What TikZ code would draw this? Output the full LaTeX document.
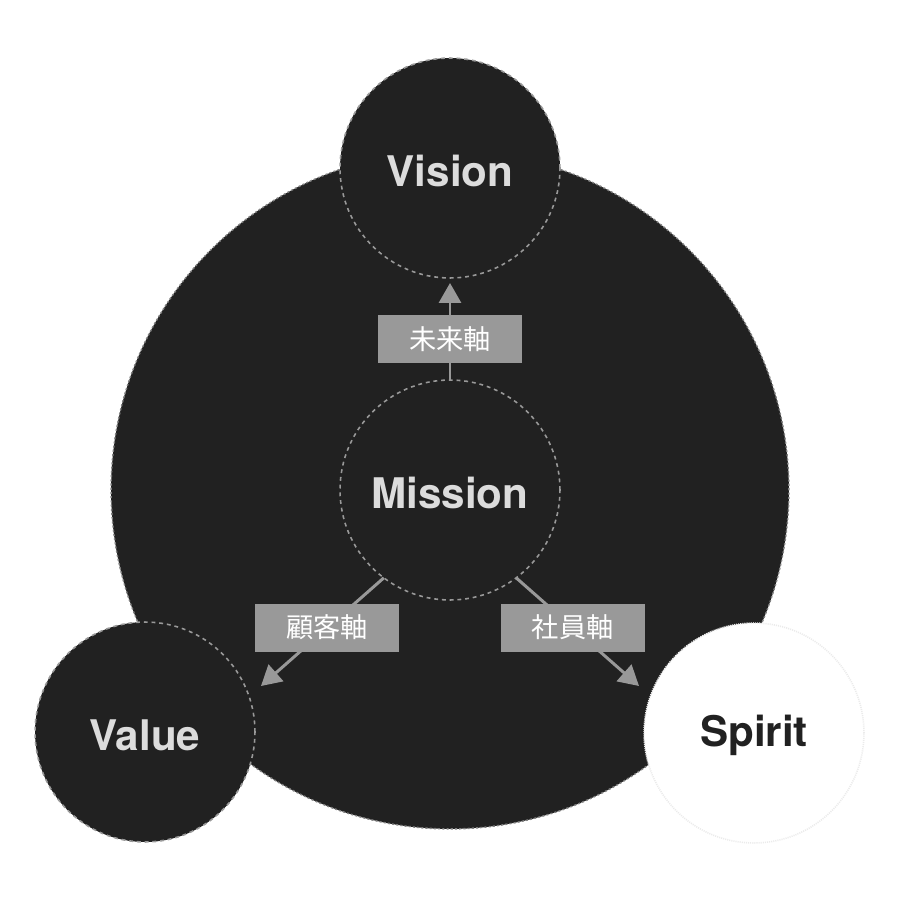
\documentclass[tikz,border=0pt]{standalone}
\usepackage{fontspec}
\setsansfont{TeX Gyre Heros}
\newfontfamily\jpfont{Noto Sans CJK JP}
\usepackage{xcolor}
\usepackage{tikz}
\usetikzlibrary{shapes, arrows.meta, positioning}

\definecolor{darkfill}{HTML}{212121}
\definecolor{lighttext}{HTML}{DCDCDC}
\definecolor{axisgray}{HTML}{999999}

\begin{document}
\begin{tikzpicture}[x=0.02cm, y=-0.02cm,
            bigcircle/.style={circle, draw=gray, dash pattern=on 1.2pt off 1.2pt, line width=0.8pt, fill=darkfill, minimum size=13.56cm, inner sep=0pt, outer sep=0pt},
            vmcircle/.style={circle, draw=axisgray, dash pattern=on 2.2pt off 2.2pt, line width=0.9pt, fill=darkfill, minimum size=4.4cm, inner sep=0pt, outer sep=0pt, text height=0.73cm, text depth=0pt, text=lighttext, font=\sffamily\bfseries\fontsize{24}{28}\selectfont},
            spiritcircle/.style={vmcircle, draw=black!8, dash pattern=on 0.6pt off 0.6pt, fill=white, text height=0.53cm, text=darkfill},
            axis/.style={rectangle, fill=axisgray, text=white, minimum width=2.88cm, minimum height=0.96cm, inner sep=0pt, font=\jpfont\fontsize{15.5}{18}\selectfont},
            arrow/.style={-{Triangle[length=0.4cm, width=0.44cm]}, line width=1.7pt, axisgray}]

            \useasboundingbox (0,0) rectangle (900,900);

            \node[bigcircle] (whole) at (450,490) {};
            \node[vmcircle] (vision) at (450,168) {Vision};
            \node[vmcircle] (value) at (145,732) {Value};
            \node[spiritcircle] (spirit) at (754,733) {Spirit};
            \node[vmcircle] (mission) at (450,490) {Mission};

            \coordinate (valuetip) at (261,686);
            \coordinate (spirittip) at (639,686);

            \draw[arrow, shorten >=0.1cm] (mission.north) -- node[axis, pos=0.4] (mirai) {未来軸} (vision.south);
            \draw[arrow] (mission.233) -- node[axis, pos=0.46] (kokyaku) {顧客軸} (valuetip);
            \draw[arrow] (mission.307) -- node[axis, pos=0.46] (shain) {社員軸} (spirittip);
        \end{tikzpicture}
\end{document}
